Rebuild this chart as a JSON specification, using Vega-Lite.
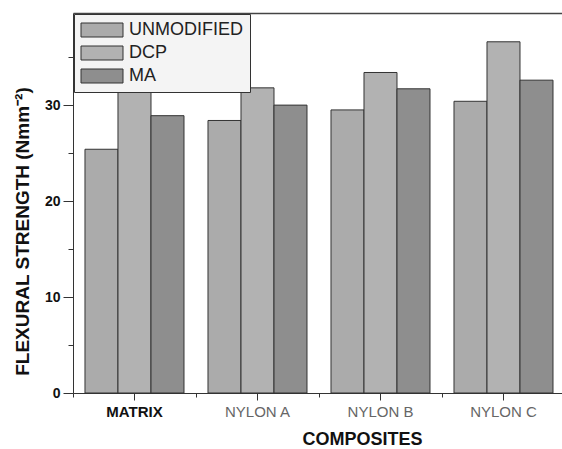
{
  "$schema": "https://vega.github.io/schema/vega-lite/v6.json",
  "width": 489,
  "height": 380,
  "autosize": "none",
  "padding": {"left": 73, "top": 13, "right": 0, "bottom": 56},
  "background": "white",
  "config": {
    "view": {"stroke": null},
    "font": "Liberation Sans",
    "legend": {
      "strokeColor": "#333",
      "fillColor": "#f4f4f4",
      "padding": 7,
      "symbolType": "M-3,-1H3V1H-3Z",
      "symbolSize": 196,
      "symbolOffset": 12,
      "symbolStrokeColor": "#333",
      "symbolStrokeWidth": 1,
      "symbolOpacity": 1,
      "labelFontSize": 18,
      "labelFont": "Liberation Sans",
      "labelColor": "#222",
      "labelOffset": 18,
      "rowPadding": 5
    }
  },
  "data": {
    "values": [
      {"composite": "MATRIX", "series": "UNMODIFIED", "value": 25.4},
      {"composite": "MATRIX", "series": "DCP", "value": 31.7},
      {"composite": "MATRIX", "series": "MA", "value": 28.9},
      {"composite": "NYLON A", "series": "UNMODIFIED", "value": 28.4},
      {"composite": "NYLON A", "series": "DCP", "value": 31.8},
      {"composite": "NYLON A", "series": "MA", "value": 30.0},
      {"composite": "NYLON B", "series": "UNMODIFIED", "value": 29.5},
      {"composite": "NYLON B", "series": "DCP", "value": 33.4},
      {"composite": "NYLON B", "series": "MA", "value": 31.7},
      {"composite": "NYLON C", "series": "UNMODIFIED", "value": 30.4},
      {"composite": "NYLON C", "series": "DCP", "value": 36.6},
      {"composite": "NYLON C", "series": "MA", "value": 32.6}
    ]
  },
  "resolve": {"axis": {"x": "independent"}},
  "layer": [
    {
      "mark": {"type": "bar", "stroke": "#333", "strokeWidth": 1},
      "encoding": {
        "x": {
          "field": "composite",
          "type": "nominal",
          "sort": ["MATRIX", "NYLON A", "NYLON B", "NYLON C"],
          "scale": {"paddingInner": 0.1951, "paddingOuter": 0.0853, "align": 0.571},
          "axis": {
            "orient": "bottom",
            "labelAngle": 0,
            "labelFontSize": 15,
            "labelFontWeight": {"condition": {"test": "datum.value == 'MATRIX'", "value": "bold"}, "value": "normal"},
            "labelColor": {"condition": {"test": "datum.value == 'MATRIX'", "value": "#111"}, "value": "#666"},
            "labelPadding": 4,
            "tickSize": 7,
            "tickColor": "#333",
            "domainColor": "#333",
            "title": "COMPOSITES",
            "titleFontSize": 18,
            "titleFontWeight": "bold",
            "titleColor": "#111",
            "titleX": 289,
            "titleY": 46,
            "titleBaseline": "middle"
          }
        },
        "xOffset": {
          "field": "series",
          "type": "nominal",
          "sort": ["UNMODIFIED", "DCP", "MA"],
          "scale": {"paddingInner": 0, "paddingOuter": 0}
        },
        "y": {
          "field": "value",
          "type": "quantitative",
          "scale": {"domain": [0, 39.6], "nice": false},
          "axis": {
            "values": [0, 5, 10, 15, 20, 25, 30, 35],
            "labelExpr": "datum.value % 10 === 0 ? datum.label : ''",
            "tickSize": {"condition": {"test": "datum.value % 10 === 0", "value": 10}, "value": 5},
            "grid": false,
            "labelFontSize": 14,
            "labelFontWeight": "bold",
            "labelColor": "#111",
            "labelPadding": 3,
            "tickColor": "#333",
            "domainColor": "#333",
            "title": "FLEXURAL STRENGTH (Nmm⁻²)",
            "titleFontSize": 19,
            "titleFontWeight": "bold",
            "titleColor": "#111",
            "titleX": -51,
            "titleY": 218,
            "titleAlign": "center",
            "titleBaseline": "middle",
            "titleAngle": -90
          }
        },
        "color": {
          "field": "series",
          "type": "nominal",
          "sort": ["UNMODIFIED", "DCP", "MA"],
          "scale": {"domain": ["UNMODIFIED", "DCP", "MA"], "range": ["#ababab", "#b2b2b2", "#8e8e8e"]},
          "legend": {"orient": "none", "legendX": 1, "legendY": 1, "title": null}
        }
      }
    },
    {
      "mark": {"type": "bar", "opacity": 0},
      "encoding": {
        "x": {
          "field": "composite",
          "type": "nominal",
          "sort": ["MATRIX", "NYLON A", "NYLON B", "NYLON C"],
          "axis": {"orient": "top", "labels": false, "ticks": false, "domain": true, "domainColor": "#444", "domainWidth": 1.5, "title": null}
        },
        "y": {"field": "value", "type": "quantitative"}
      }
    },
    {
      "mark": {"type": "bar", "opacity": 0},
      "encoding": {
        "x": {
          "field": "composite",
          "type": "nominal",
          "sort": ["MATRIX", "NYLON A", "NYLON B", "NYLON C"],
          "axis": {"orient": "bottom", "labels": false, "domain": false, "ticks": true, "tickSize": 4, "tickColor": "#333", "bandPosition": -0.121, "title": null}
        },
        "y": {"field": "value", "type": "quantitative"}
      }
    }
  ]
}
